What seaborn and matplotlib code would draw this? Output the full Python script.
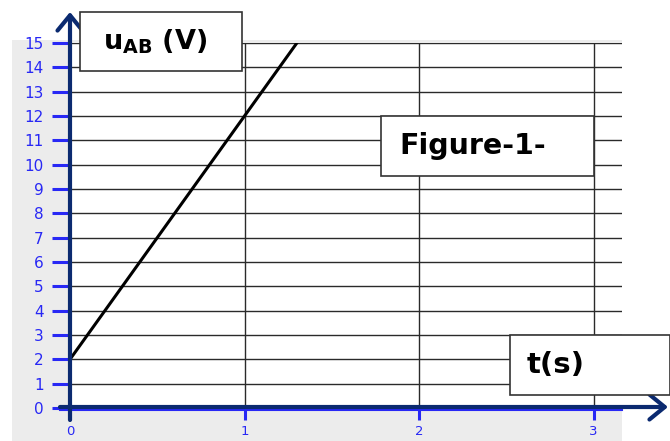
import matplotlib
matplotlib.use("Agg")
import matplotlib.pyplot as plt
from matplotlib.patches import Rectangle
import pandas as pd
import seaborn as sns

# u_AB(t) = 10 t + 2, drawn from t = 0 until it reaches the top of the scale
t_values = [0.0, 1.3]
u_values = [2.0, 15.0]
x_ticks = [0, 1, 2, 3]
y_ticks = list(range(0, 16))

W, H = 670, 441
fig = plt.figure(figsize=(W / 100, H / 100), dpi=100)
fig.patch.set_facecolor("white")

def fx(px):
    return px / W

def fy(py):
    return (H - py) / H

# light grey panel behind the graph
fig.add_artist(Rectangle((fx(12), 0), fx(622) - fx(12), fy(40), transform=fig.transFigure,
                         facecolor="#ececec", edgecolor="none", zorder=-10))

ax = fig.add_axes([fx(70), fy(408), fx(622) - fx(70), fy(43) - fy(408)])
ax.set_zorder(1)
ax.set_facecolor("white")

df = pd.DataFrame({"t": t_values, "u": u_values})
sns.lineplot(data=df, x="t", y="u", ax=ax, color="black", linewidth=2.2, zorder=5)

ax.set_xlim(0, (622 - 70) / 174.5)
ax.set_ylim(0, 15)
ax.set_xticks(x_ticks)
ax.set_yticks(y_ticks)
ax.set_xticklabels([str(v) for v in x_ticks])
ax.set_yticklabels([str(v) for v in y_ticks])
ax.set_xlabel("")
ax.set_ylabel("")

for y in y_ticks[1:]:
    ax.axhline(y, color="#2a2a2a", linewidth=1.0, zorder=1)
for x in x_ticks[1:]:
    ax.axvline(x, color="#2a2a2a", linewidth=1.0, zorder=1)

for s in ax.spines.values():
    s.set_visible(False)

blue = "#2828f5"
ax.tick_params(axis="y", direction="out", length=13, width=2.2, color=blue,
               labelcolor=blue, labelsize=11, pad=6)
ax.tick_params(axis="x", direction="out", length=8.5, width=2.2, color=blue,
               labelcolor=blue, labelsize=9.5, pad=4)

# thin blue band under the time axis
fig.add_artist(plt.Line2D([fx(60), fx(622)], [fy(410), fy(410)], transform=fig.transFigure,
                          color=blue, linewidth=1.5, zorder=5))

# axes with arrow heads
navy = "#0b2a70"
arrow = dict(arrowstyle="->,head_length=0.55,head_width=0.45", lw=3.0, color=navy,
             mutation_scale=20, shrinkA=0, shrinkB=0)
fig.add_artist(plt.Annotation("", xy=(fx(70), fy(12)), xytext=(fx(70), fy(420)),
                              xycoords="figure fraction", textcoords="figure fraction",
                              arrowprops=arrow, zorder=6))
fig.add_artist(plt.Annotation("", xy=(fx(668), fy(407)), xytext=(fx(60), fy(407)),
                              xycoords="figure fraction", textcoords="figure fraction",
                              arrowprops=arrow, zorder=6))

# labelled boxes
def box(x0, y0, x1, y1, text, tx, size):
    fig.add_artist(Rectangle((fx(x0), fy(y1)), fx(x1) - fx(x0), fy(y0) - fy(y1),
                             transform=fig.transFigure, facecolor="white",
                             edgecolor="#333333", linewidth=1.2, zorder=7))
    fig.text(fx(tx), fy((y0 + y1) / 2), text, ha="left", va="center",
             fontsize=size, fontweight="bold", color="black", zorder=8)

plt.rcParams["mathtext.fontset"] = "dejavusans"
box(80, 12, 242, 71, r"$\mathbf{u_{AB}}$ (V)", 103, 19.5)
box(381, 116, 594, 176, "Figure-1-", 399, 20.5)
box(510, 335, 670, 395, "t(s)", 527, 21)

fig.savefig("out.png", dpi=100)
